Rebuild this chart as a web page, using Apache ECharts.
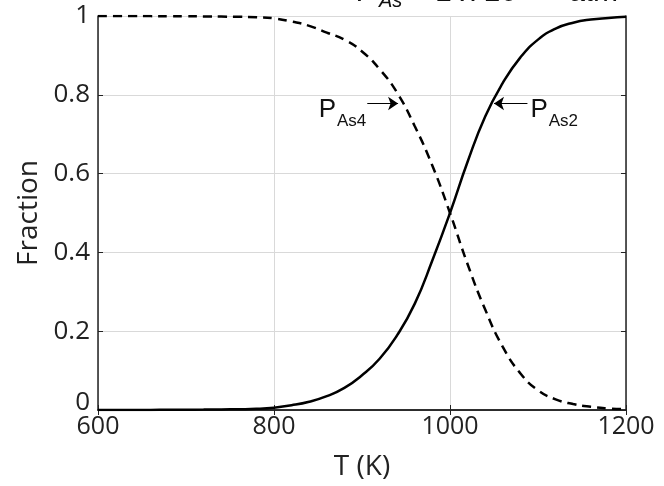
<!DOCTYPE html>
<html>
<head>
<meta charset="utf-8">
<script src="https://cdn.jsdelivr.net/npm/echarts@6/dist/echarts.min.js"></script>
<style>html,body{margin:0;padding:0;background:#fff}#c{width:664px;height:486px}</style>
</head>
<body>
<div id="c"></div>
<script>
// Temperature (K)
var temps = [600,620,640,660,680,700,720,740,760,780,800,820,840,860,880,900,920,940,960,980,1000,1020,1040,1060,1080,1100,1120,1140,1160,1180,1200];
// Fraction of As2 (solid)
var fracAs2 = [0,0,0,0.0003,0.0005,0.0008,0.001,0.0015,0.002,0.003,0.006,0.012,0.021,0.035,0.056,0.088,0.13,0.19,0.27,0.38,0.50,0.63,0.745,0.83,0.895,0.94,0.968,0.983,0.991,0.995,0.998];
// Fraction of As4 (dashed)
var fracAs4 = [1,1,1,0.9997,0.9995,0.9992,0.999,0.9985,0.998,0.997,0.994,0.986,0.975,0.958,0.94,0.91,0.865,0.805,0.72,0.62,0.50,0.37,0.255,0.16,0.093,0.05,0.027,0.015,0.008,0.004,0.002];
var xTicks = [600,800,1000,1200];
var yTicks = [0,0.2,0.4,0.6,0.8,1];
// annotation arrows (data coords): [startT, endT, fraction]
var arrowAs4 = [906, 941, 0.778];
var arrowAs2 = [1088, 1050, 0.778];

function pairs(xs, ys){ return xs.map(function(x,i){return [x, ys[i]];}); }

var chart = echarts.init(document.getElementById('c'));
var tickFont = 'Open Sans';
var labRich = {
  p:{fontFamily:'Liberation Sans',fontSize:26,color:'#111',lineHeight:26,verticalAlign:'top',padding:[6,0,0,0]},
  s:{fontFamily:'Liberation Sans',fontSize:17,color:'#111',lineHeight:17,verticalAlign:'top',padding:[22,0,0,1]}
};
chart.setOption({
  animation:false,
  backgroundColor:'#fff',
  title:{
    left:357, top:-22, padding:0,
    text:'{m|P}{s|As}{m| = 1 x 10}{u|-5}{m|    atm}',
    textStyle:{rich:{
      m:{fontFamily:'Liberation Sans',fontStyle:'italic',fontWeight:'normal',fontSize:30,color:'#111',lineHeight:30,verticalAlign:'top'},
      s:{fontFamily:'Liberation Sans',fontStyle:'italic',fontWeight:'normal',fontSize:20,color:'#111',lineHeight:20,verticalAlign:'top',padding:[13,0,0,2]},
      u:{fontFamily:'Liberation Sans',fontStyle:'italic',fontWeight:'normal',fontSize:20,color:'#111',lineHeight:20,verticalAlign:'top',padding:[0,0,0,0]}
    }}
  },
  grid:{left:98,right:38,top:16,bottom:74},
  xAxis:[{
    type:'value',min:600,max:1200,interval:200,position:'bottom',
    name:'T (K)',nameLocation:'middle',nameGap:43,
    nameTextStyle:{fontFamily:tickFont,fontSize:28,color:'#222'},
    axisLine:{show:true,lineStyle:{color:'#222',width:1.5}},
    axisTick:{show:true,inside:true,length:5,lineStyle:{color:'#222'}},
    axisLabel:{fontFamily:tickFont,fontSize:25,color:'#222',margin:4,
      formatter:function(v){ return String(v); }},
    splitLine:{show:true,lineStyle:{color:'#d9d9d9',width:1}}
  },{
    type:'value',min:600,max:1200,interval:200,position:'top',
    axisLine:{show:true,lineStyle:{color:'#222',width:1.5}},
    axisTick:{show:true,inside:true,length:5,lineStyle:{color:'#222'}},
    axisLabel:{show:false},splitLine:{show:false}
  }],
  yAxis:[{
    type:'value',min:0,max:1,interval:0.2,position:'left',
    name:'Fraction',nameLocation:'middle',nameGap:55,nameRotate:90,
    nameTextStyle:{fontFamily:tickFont,fontSize:28,color:'#222'},
    axisLine:{show:true,lineStyle:{color:'#222',width:1.5}},
    axisTick:{show:true,inside:true,length:5,lineStyle:{color:'#222'}},
    axisLabel:{fontFamily:tickFont,fontSize:26,color:'#222',margin:8,
      formatter:function(v){ return v===0 ? '{z|0}' : String(Math.round(v*10)/10); },
      rich:{z:{fontFamily:tickFont,fontSize:26,color:'#222',padding:[0,0,14,0]}}},
    splitLine:{show:true,lineStyle:{color:'#d9d9d9',width:1}}
  },{
    type:'value',min:0,max:1,interval:0.2,position:'right',
    axisLine:{show:true,lineStyle:{color:'#222',width:1.5}},
    axisTick:{show:true,inside:true,length:5,lineStyle:{color:'#222'}},
    axisLabel:{show:false},splitLine:{show:false}
  }],
  series:[{
    name:'As2',type:'line',xAxisIndex:0,yAxisIndex:0,
    data:pairs(temps,fracAs2),showSymbol:false,smooth:0.5,
    lineStyle:{color:'#000',width:2.5,type:'solid'},
    markLine:{silent:true,symbol:['none','arrow'],symbolSize:10,
      lineStyle:{color:'#000',width:1,type:'solid'},
      label:{show:true,position:'start',distance:3,formatter:'{p|P}{s|As2}',rich:labRich},
      data:[[{coord:[arrowAs2[0],arrowAs2[2]]},{coord:[arrowAs2[1],arrowAs2[2]]}]]}
  },{
    name:'As4',type:'line',xAxisIndex:0,yAxisIndex:0,
    data:pairs(temps,fracAs4),showSymbol:false,smooth:0.5,
    lineStyle:{color:'#000',width:2.5,type:[9,6]},
    markLine:{silent:true,symbol:['none','arrow'],symbolSize:10,
      lineStyle:{color:'#000',width:1,type:'solid'},
      label:{show:true,position:'start',distance:1,formatter:'{p|P}{s|As4}',rich:labRich},
      data:[[{coord:[arrowAs4[0],arrowAs4[2]]},{coord:[arrowAs4[1],arrowAs4[2]]}]]}
  }]
});
</script>
</body>
</html>
